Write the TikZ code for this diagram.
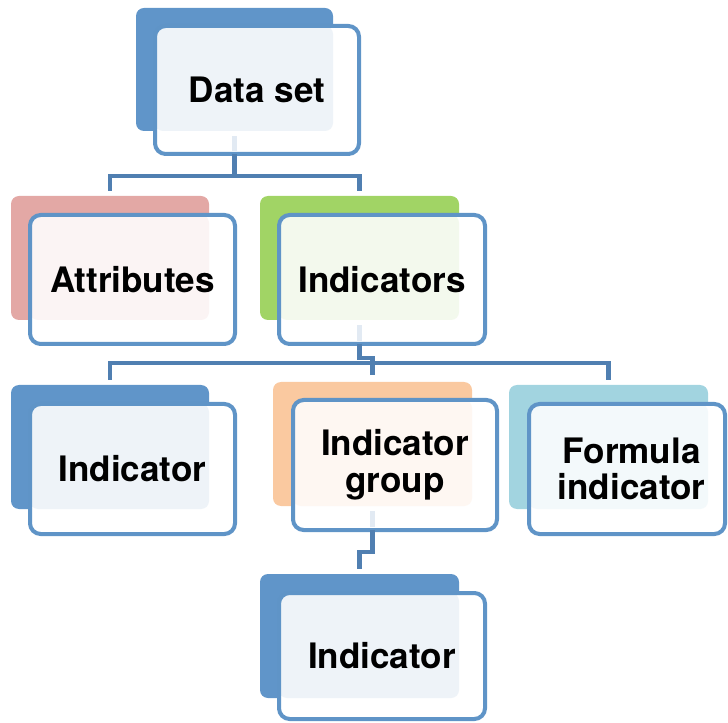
\documentclass[tikz,border=0pt]{standalone}
\usepackage{fontspec}
\setmainfont{TeX Gyre Heros}
\usetikzlibrary{fit}
\definecolor{bordblue}{RGB}{95,148,199}
\definecolor{conncol}{RGB}{80,127,177}
\definecolor{connlight}{RGB}{226,234,243}
\definecolor{blueback}{RGB}{96,149,201}
\definecolor{bluetint}{RGB}{238,243,248}
\definecolor{redback}{RGB}{227,168,165}
\definecolor{redtint}{RGB}{251,244,244}
\definecolor{greenback}{RGB}{161,212,101}
\definecolor{greentint}{RGB}{243,249,237}
\definecolor{orangeback}{RGB}{250,201,160}
\definecolor{orangetint}{RGB}{254,247,242}
\definecolor{cyanback}{RGB}{162,212,224}
\definecolor{cyantint}{RGB}{243,249,251}
\begin{document}
\begin{tikzpicture}[x=0.75pt,y=-0.75pt,
  bk/.style={inner sep=0pt, outer sep=0pt, rounded corners=6pt, draw=none},
  frfill/.style={inner sep=0pt, outer sep=0pt, fill=white, draw=none, rounded corners=8pt},
  frborder/.style={inner sep=0pt, outer sep=0pt, draw=bordblue, line width=3pt, rounded corners=8pt},
  tintbox/.style={rounded corners=6pt},
  lbl/.style={font=\fontsize{26.3}{27.5}\selectfont\bfseries, align=center, inner sep=0pt},
  conn/.style={draw=conncol, line width=3.3pt},
  connl/.style={draw=connlight, line width=3.3pt}]
\useasboundingbox (0,0) rectangle (728,723);
% ---------- Data set
\node[bk, fill=blueback, fit={(136,8) (333,131)}] (data-b) {};
\node[frfill, fit={(155,26) (359,154)}] (data-f) {};
\fill[bluetint, tintbox] (data-f.north west) rectangle (data-b.south east);
\node[frborder, fit={(155,26) (359,154)}] (data-r) {};
\node[lbl] (data-t) at (data-f.center) {Data set};
% ---------- Attributes
\node[bk, fill=redback, fit={(11,196) (209,320)}] (attr-b) {};
\node[frfill, fit={(30,215) (235,344)}] (attr-f) {};
\fill[redtint, tintbox] (attr-f.north west) rectangle (attr-b.south east);
\node[frborder, fit={(30,215) (235,344)}] (attr-r) {};
\node[lbl] (attr-t) at (attr-f.center) {Attributes};
% ---------- Indicators
\node[bk, fill=greenback, fit={(260,196) (459,320)}] (inds-b) {};
\node[frfill, fit={(279,215) (485,344)}] (inds-f) {};
\fill[greentint, tintbox] (inds-f.north west) rectangle (inds-b.south east);
\node[frborder, fit={(279,215) (485,344)}] (inds-r) {};
\node[lbl] (inds-t) at (inds-f.center) {Indicators};
% ---------- Indicator (left)
\node[bk, fill=blueback, fit={(11,385) (209,509)}] (ind1-b) {};
\node[frfill, fit={(30,404) (235,534)}] (ind1-f) {};
\fill[bluetint, tintbox] (ind1-f.north west) rectangle (ind1-b.south east);
\node[frborder, fit={(30,404) (235,534)}] (ind1-r) {};
\node[lbl] (ind1-t) at (ind1-f.center) {Indicator};
% ---------- Indicator group
\node[bk, fill=orangeback, fit={(273,382) (472,506)}] (grp-b) {};
\node[frfill, fit={(293,400) (497,530)}] (grp-f) {};
\fill[orangetint, tintbox] (grp-f.north west) rectangle (grp-b.south east);
\node[frborder, fit={(293,400) (497,530)}] (grp-r) {};
\node[lbl] (grp-t) at (grp-f.center) {Indicator\\group};
% ---------- Formula indicator
\node[bk, fill=cyanback, fit={(509,385) (708,509)}] (form-b) {};
\node[frfill, fit={(529,404) (725,534)}] (form-f) {};
\fill[cyantint, tintbox] (form-f.north west) rectangle (form-b.south east);
\node[frborder, fit={(529,404) (725,534)}] (form-r) {};
\node[lbl] (form-t) at ([xshift=3.5pt]form-f.center) {Formula\\indicator};
% ---------- Indicator (bottom)
\node[bk, fill=blueback, fit={(260,574) (459,698)}] (ind2-b) {};
\node[frfill, fit={(279,593) (485,719)}] (ind2-f) {};
\fill[bluetint, tintbox] (ind2-f.north west) rectangle (ind2-b.south east);
\node[frborder, fit={(279,593) (485,719)}] (ind2-r) {};
\node[lbl] (ind2-t) at (ind2-f.center) {Indicator};
% ---------- connectors
% Data set -> Attributes, Indicators
\draw[connl, shorten <=4pt, shorten >=2pt] (data-b.south) -- (data-f.south -| data-b.south);
\path (data-f.south -| data-b.south) ++(0,22) coordinate (bus1);
\draw[conn] (data-f.south -| data-b.south) -- (bus1);
\draw[conn, shorten <=4pt, shorten >=4pt] (attr-b.north) |- (bus1) -| (inds-b.north);
% Indicators -> Indicator, Indicator group, Formula indicator
\draw[connl, shorten <=4pt, shorten >=2pt] (inds-b.south) -- (inds-f.south -| inds-b.south);
\path (inds-f.south -| inds-b.south) ++(0,14) coordinate (jog2);
\path (jog2) ++(0,5) coordinate (bus2);
\draw[conn, shorten >=5pt] (inds-f.south -| inds-b.south) -- (jog2) -| (grp-b.north);
\draw[conn, shorten <=4pt, shorten >=4pt] (ind1-b.north) |- (bus2) -| (form-b.north);
% Indicator group -> Indicator
\draw[connl, shorten <=4pt, shorten >=2pt] (grp-b.south) -- (grp-f.south -| grp-b.south);
\path (grp-f.south -| grp-b.south) ++(0,22) coordinate (jog3);
\draw[conn, shorten >=4pt] (grp-f.south -| grp-b.south) -- (jog3) -| (ind2-b.north);
\end{tikzpicture}
\end{document}
